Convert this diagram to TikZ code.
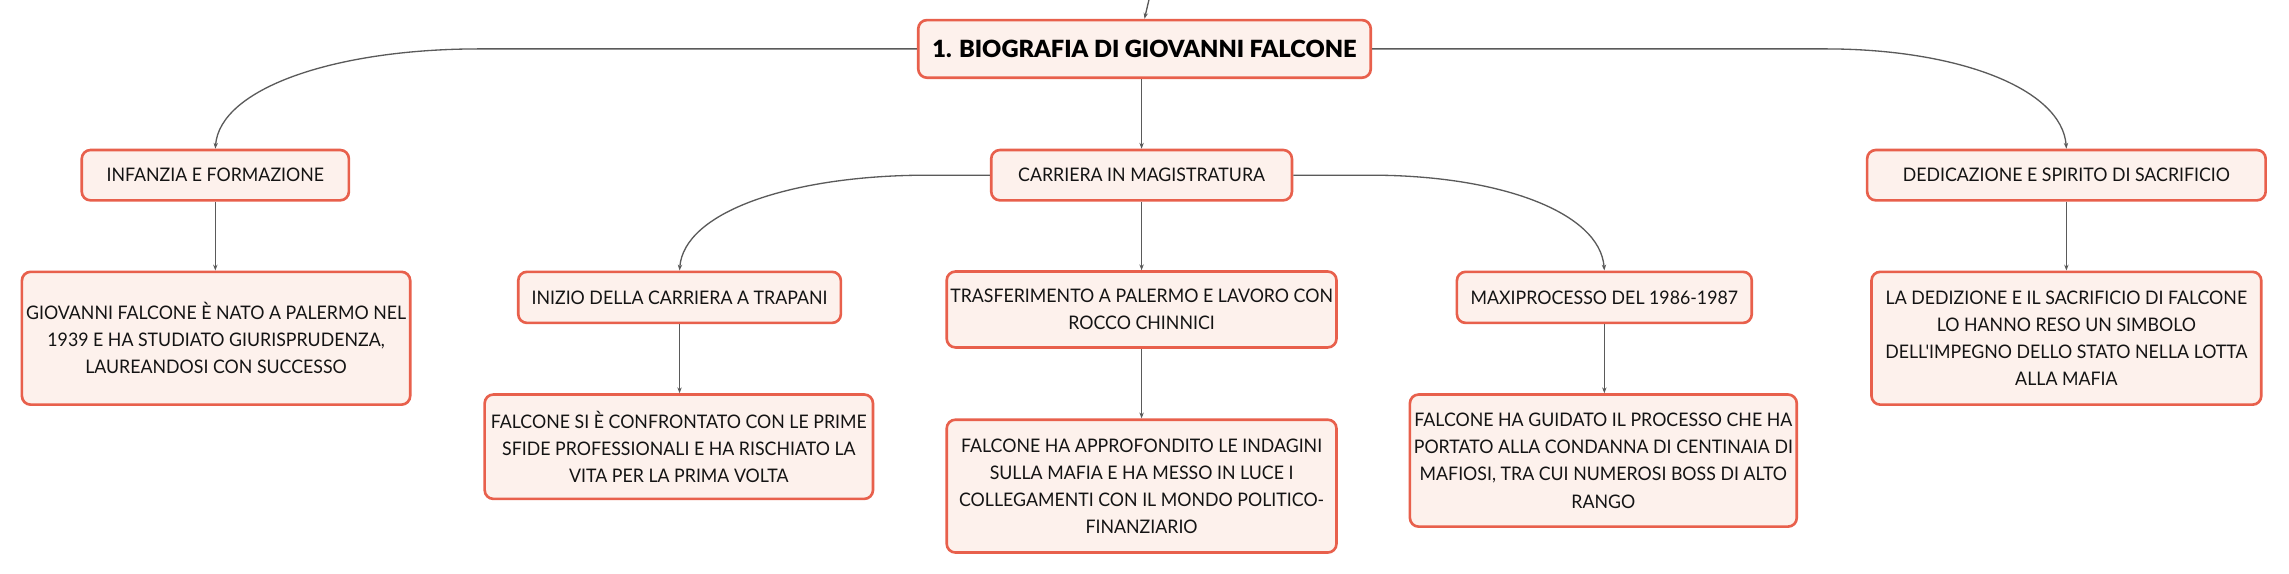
\documentclass[tikz,border=0pt]{standalone}
\usepackage{fontspec}
\setmainfont{Lato}
\newfontfamily\bodyfont{Lato}[FakeStretch=0.95]
\newfontfamily\titlefont{Lato Black}
\usetikzlibrary{arrows.meta,calc}
\definecolor{boxborder}{HTML}{E8604C}
\definecolor{boxfill}{HTML}{FDF1EC}
\definecolor{linegray}{HTML}{5A5A5A}
\definecolor{txt}{HTML}{141414}
\tikzset{
  topic/.style={draw=boxborder, fill=boxfill, line width=1.8pt, rounded corners=6pt,
    inner sep=0pt, align=center, text=txt, font=\bodyfont\fontsize{12.8}{18.6}\selectfont},
  conn/.style={draw=linegray, line width=0.9pt, -{Stealth[length=4pt,width=3pt]}},
}
\begin{document}
\begin{tikzpicture}[x=1pt,y=-1pt]
\fill[white] (0,0) rectangle (1568,393);
\useasboundingbox (0,0) rectangle (1568,393);

\node[topic, font=\titlefont\fontsize{16.2}{19}\selectfont, text=black, minimum width=310pt, minimum height=39.5pt] (main) at (784,33.5) {1. BIOGRAFIA DI GIOVANNI FALCONE};

\node[topic, minimum width=183pt, minimum height=34.5pt] (inf) at (147.5,120) {INFANZIA E FORMAZIONE};
\node[topic, minimum width=206pt, minimum height=34.5pt] (car) at (782,120) {CARRIERA IN MAGISTRATURA};
\node[topic, minimum width=273pt, minimum height=34.5pt] (ded) at (1415.5,120) {DEDICAZIONE E SPIRITO DI SACRIFICIO};

\node[topic, minimum width=266pt, minimum height=91pt] (infc) at (148,231.7) {GIOVANNI FALCONE È NATO A PALERMO NEL\\1939 E HA STUDIATO GIURISPRUDENZA,\\LAUREANDOSI CON SUCCESSO};
\node[topic, minimum width=221pt, minimum height=35pt] (ini) at (465.5,203.7) {INIZIO DELLA CARRIERA A TRAPANI};
\node[topic, minimum width=266pt, minimum height=71.5pt] (inic) at (465,306) {FALCONE SI È CONFRONTATO CON LE PRIME\\SFIDE PROFESSIONALI E HA RISCHIATO LA\\VITA PER LA PRIMA VOLTA};
\node[topic, minimum width=267pt, minimum height=52pt] (tra) at (782,212) {TRASFERIMENTO A PALERMO E LAVORO CON\\ROCCO CHINNICI};
\node[topic, minimum width=267pt, minimum height=91pt] (trac) at (782,333) {FALCONE HA APPROFONDITO LE INDAGINI\\SULLA MAFIA E HA MESSO IN LUCE I\\COLLEGAMENTI CON IL MONDO POLITICO-\\FINANZIARIO};
\node[topic, minimum width=202pt, minimum height=35pt] (max) at (1099,203.7) {MAXIPROCESSO DEL 1986-1987};
\node[topic, minimum width=265pt, minimum height=90.5pt] (maxc) at (1098.3,315.5) {FALCONE HA GUIDATO IL PROCESSO CHE HA\\PORTATO ALLA CONDANNA DI CENTINAIA DI\\MAFIOSI, TRA CUI NUMEROSI BOSS DI ALTO\\RANGO};
\node[topic, minimum width=267pt, minimum height=91pt] (dedc) at (1415.5,231.7) {LA DEDIZIONE E IL SACRIFICIO DI FALCONE\\LO HANNO RESO UN SIMBOLO\\DELL'IMPEGNO DELLO STATO NELLA LOTTA\\ALLA MAFIA};

% connector coming from above
\coordinate (topin) at (787,0);
\draw[conn] (topin) -- (main.north);

% curved connectors
\draw[conn] (main.west) -- ($(inf.north |- main.west)+(181,0)$)
  .. controls ($(inf.north |- main.west)+(81,0)$) and ($(inf.north)+(3,-41)$) .. (inf.north);
\draw[conn] (main.east) -- ($(ded.north |- main.east)+(-165,0)$)
  .. controls ($(ded.north |- main.east)+(-74,0)$) and ($(ded.north)+(-3,-41)$) .. (ded.north);
\draw[conn] (car.west) -- ($(ini.north |- car.west)+(170,0)$)
  .. controls ($(ini.north |- car.west)+(76,0)$) and ($(ini.north)+(3,-40)$) .. (ini.north);
\draw[conn] (car.east) -- ($(max.north |- car.east)+(-160,0)$)
  .. controls ($(max.north |- car.east)+(-72,0)$) and ($(max.north)+(-3,-40)$) .. (max.north);

% straight connectors
\draw[conn] (main.south -| car.north) -- (car.north);
\draw[conn] (inf.south) -- (inf.south |- infc.north);
\draw[conn] (ini.south) -- (ini.south |- inic.north);
\draw[conn] (tra.south) -- (trac.north);
\draw[conn] (car.south) -- (tra.north);
\draw[conn] (max.south) -- (max.south |- maxc.north);
\draw[conn] (ded.south) -- (ded.south |- dedc.north);
\end{tikzpicture}
\end{document}
